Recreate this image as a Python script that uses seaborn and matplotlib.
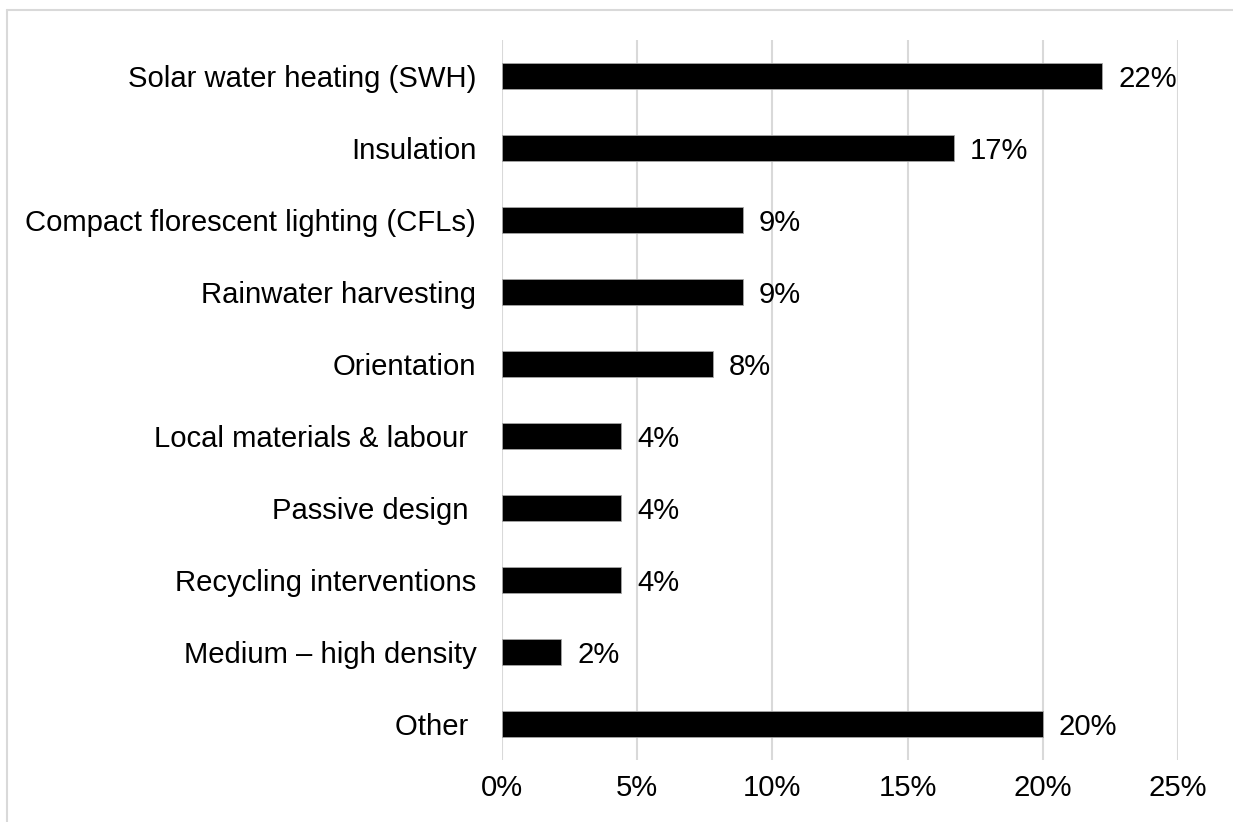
import matplotlib
matplotlib.use("Agg")
import matplotlib.pyplot as plt
from matplotlib.lines import Line2D
import seaborn as sns
import pandas as pd

categories = [
    "Solar water heating (SWH)",
    "Insulation",
    "Compact florescent lighting (CFLs)",
    "Rainwater harvesting",
    "Orientation",
    "Local materials & labour ",
    "Passive design ",
    "Recycling interventions",
    "Medium \u2013 high density",
    "Other ",
]
shares = [22.2, 16.7, 8.9, 8.9, 7.8, 4.4, 4.4, 4.4, 2.2, 20.0]
x_ticks = [0, 5, 10, 15, 20, 25]
x_tick_labels = ["0%", "5%", "10%", "15%", "20%", "25%"]

df = pd.DataFrame({"category": categories, "share": shares})

sns.set_theme(style="white")
plt.rcParams["font.family"] = ["Liberation Sans", "DejaVu Sans"]
plt.rcParams["text.color"] = "black"
plt.rcParams["xtick.color"] = "black"
plt.rcParams["ytick.color"] = "black"

FS = 21.1

W, H = 1233, 822
fig = plt.figure(figsize=(W / 100, H / 100), dpi=100)
ax = fig.add_axes([502 / W, 1 - 760 / H, (1178 - 502) / W, (760 - 40) / H])

sns.barplot(data=df, x="share", y="category", color="black", width=0.37,
            orient="h", ax=ax, zorder=3, saturation=1,
            edgecolor="#a6a6a6", linewidth=0.6)

ax.set_xlim(0, 25)
ax.set_xticks(x_ticks)
ax.set_xticklabels(x_tick_labels, fontsize=FS)
ax.tick_params(axis="x", length=0, pad=10, labelcolor="black")
ax.tick_params(axis="y", length=0, pad=18.5, labelsize=FS, labelcolor="black")
ax.set_xlabel("")
ax.set_ylabel("")
ax.grid(axis="x", color="#d9d9d9", linewidth=1.5, zorder=0)
ax.grid(axis="y", visible=False)
for s in ax.spines.values():
    s.set_visible(False)

for i, v in enumerate(shares):
    ax.annotate(f"{v:.0f}%", xy=(v, i), xytext=(11.5, 0), textcoords="offset points",
                ha="left", va="center_baseline", fontsize=FS, color="black")

# light frame along the top and left edges
fig.add_artist(Line2D([7 / W, 1], [1 - 10 / H, 1 - 10 / H], color="#d9d9d9", linewidth=1.5))
fig.add_artist(Line2D([7 / W, 7 / W], [0, 1 - 10 / H], color="#d9d9d9", linewidth=1.5))

fig.savefig("out.png", dpi=100)
